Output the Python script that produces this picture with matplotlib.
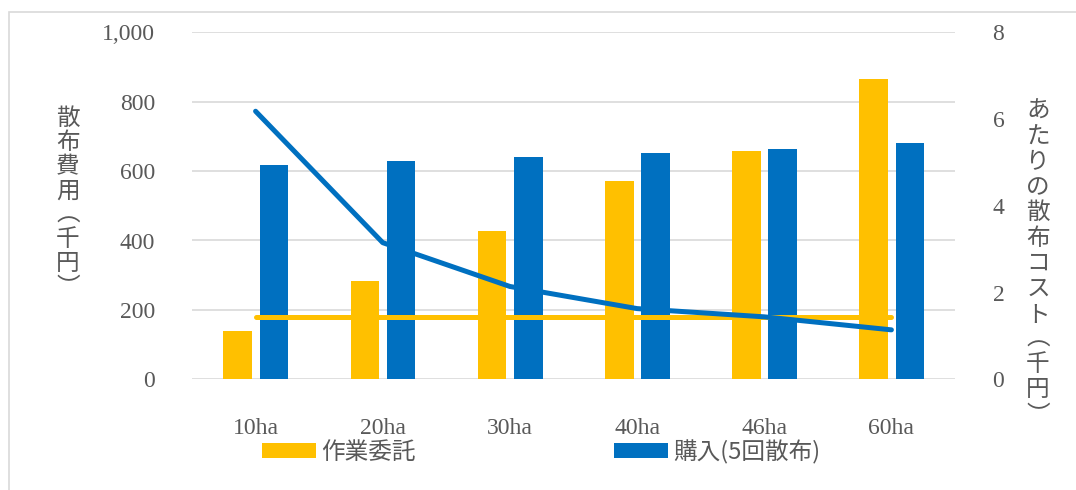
import numpy as np
import matplotlib
matplotlib.use("Agg")
import matplotlib.pyplot as plt
from matplotlib.patches import Rectangle

# -- data
categories = ["10ha", "20ha", "30ha", "40ha", "46ha", "60ha"]
itaku_cost = [139, 283, 427, 571, 658, 865]        # 作業委託 散布費用 (千円)
kounyu_cost = [618, 630, 641, 652, 664, 681]       # 購入(5回散布) 散布費用 (千円)
itaku_unit = [1.43, 1.43, 1.43, 1.43, 1.43, 1.43]  # あたりの散布コスト (千円)
kounyu_unit = [6.18, 3.15, 2.14, 1.63, 1.44, 1.14]

left_ticks = [0, 200, 400, 600, 800, 1000]
right_ticks = [0, 2, 4, 6, 8]

YELLOW = "#FFC000"
BLUE = "#0070C0"
GRID = "#D9D9D9"
TXT = "#595959"
SERIF = ["Liberation Serif", "Noto Sans CJK JP"]
JP = ["Noto Sans CJK JP", "DejaVu Sans"]

W, H = 1076, 490
fig = plt.figure(figsize=(W / 100, H / 100), dpi=100)
ax = fig.add_axes([192 / W, 1 - 379.3 / H, (955 - 192) / W, (379.3 - 32.3) / H])
ax2 = ax.twinx()

x = np.arange(len(categories))
bw = 0.225
b1 = ax.bar(x - 0.14, itaku_cost, bw, color=YELLOW, label="作業委託", zorder=2)
b2 = ax.bar(x + 0.145, kounyu_cost, bw, color=BLUE, label="購入(5回散布)", zorder=2)

ax2.plot(x, itaku_unit, color=YELLOW, lw=3.6, solid_capstyle="round", solid_joinstyle="round")
ax2.plot(x, kounyu_unit, color=BLUE, lw=3.6, solid_capstyle="round", solid_joinstyle="round")

ax.set_xlim(-0.5, len(categories) - 0.5)
ax.set_ylim(0, 1000)
ax2.set_ylim(0, 8)
ax.set_yticks(left_ticks)
ax.set_yticklabels([f"{v:,}" for v in left_ticks])
ax2.set_yticks(right_ticks)
ax.set_xticks(x)
ax.set_xticklabels(categories)

ax.grid(axis="y", color=GRID, lw=1.2, zorder=0)
ax.set_axisbelow(True)
for a in (ax, ax2):
    for s in a.spines.values():
        s.set_visible(False)
ax.tick_params(axis="both", length=0, labelsize=17, labelcolor=TXT)
ax.tick_params(axis="y", pad=26.5)
ax.tick_params(axis="x", pad=28)
ax2.tick_params(axis="y", length=0, labelsize=17, labelcolor=TXT, pad=27)
for lab in ax.get_xticklabels() + ax.get_yticklabels() + ax2.get_yticklabels():
    lab.set_family(SERIF)

# put lines above bars
ax.set_zorder(1)
ax2.set_zorder(2)
ax2.patch.set_visible(False)


def vtext(s, xc, ytop, pitch, size=17):
    # stack characters vertically (縦書き)
    for i, ch in enumerate(s):
        fig.text(xc / W, 1 - (ytop + pitch * (i + 0.5)) / H, ch, ha="center", va="center",
                 fontsize=size, color=TXT, family=JP)


vtext("散布費用︵千円︶", 68, 106, 24.2)
vtext("あたりの散布コスト︵千円︶", 1038, 99, 25.3)

leg = fig.legend(handles=[b1, b2], loc="center", bbox_to_anchor=(541 / W, 1 - 452 / H),
                 ncol=2, frameon=False, fontsize=17, handlelength=2.3, handleheight=0.6,
                 handletextpad=0.2, columnspacing=8.4, borderaxespad=0, borderpad=0)
for t in leg.get_texts():
    t.set_color(TXT)
    t.set_family(JP)

# chart area border
fig.patches.append(Rectangle((9 / W, -0.05), 1.0, 1.05 - 12 / H, transform=fig.transFigure,
                             fill=False, edgecolor=GRID, lw=1.2))

fig.savefig("out.png", dpi=100)
